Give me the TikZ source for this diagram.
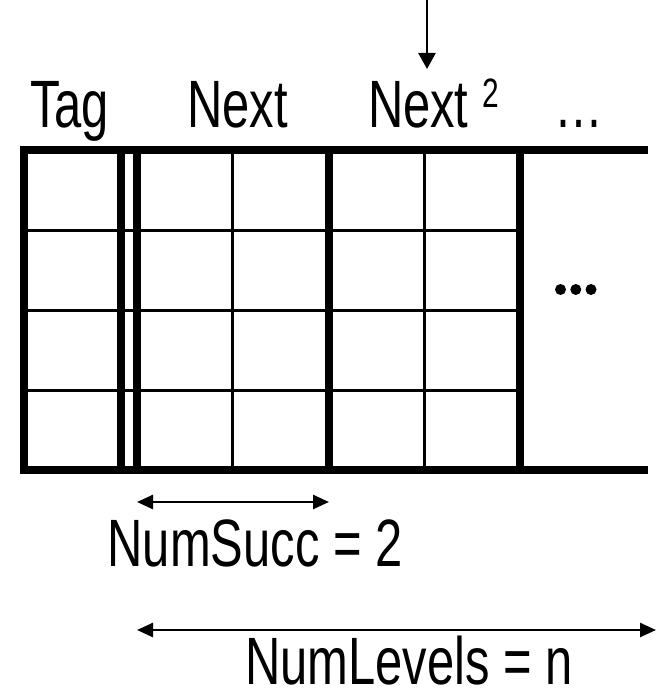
\documentclass[tikz,border=0pt]{standalone}
\usepackage{fontspec}
\setmainfont[FakeStretch=0.73]{Liberation Sans}
\usetikzlibrary{arrows.meta}
\begin{document}
\begin{tikzpicture}[x=1pt,y=-1pt,
  lbl/.style={inner sep=0pt, outer sep=0pt, font=\fontsize{67}{72}\selectfont, anchor=base},
  heavy/.style={line width=8pt, line join=miter},
  hair/.style={line width=3pt},
  ptr/.style={line width=2.5pt, -{Triangle[length=16pt,width=17pt]}},
  dimarrow/.style={line width=2.5pt, {Triangle[length=16pt,width=14pt]}-{Triangle[length=16pt,width=14pt]}},
  dot/.style={circle, fill=black, inner sep=0pt, minimum size=11pt}
]
\useasboundingbox (0,0) rectangle (656,690);

% grid: thin lines
\foreach \y in {230,310,390} \draw[hair] (24,\y) -- (520,\y);
\foreach \x in {232,424.5} \draw[hair] (\x,150) -- (\x,470);
% thick separators
\foreach \x in {121.3,136.7,329,520} \draw[heavy] (\x,150) -- (\x,470);
% outer frame (open on the right)
\draw[heavy] (648,150) -- (24,150) -- (24,470) -- (648,470);

% dots
\node[dot] (d1) at (560.5,289.5) {};
\node[dot] (d2) at (575.8,289.5) {};
\node[dot] (d3) at (591,289.5) {};

% labels
\node[lbl] (tag) at (69.5,128) {Tag};
\node[lbl] (next) at (237.5,128) {Next};
\node[lbl, anchor=base west] (next2) at (368,128) {Next \raisebox{20pt}{\fontsize{41}{44}\selectfont 2}};
\node[lbl] (dots) at (578.5,128) {…};
\node[lbl] (numsucc) at (255,566) {NumSucc = 2};
\node[lbl, text depth=0pt] (numlevels) at (409,684) {NumLevels = n};

% arrows
\coordinate (ptrtop) at (427,0);
\coordinate (ptrtip) at (427,69);
\draw[ptr] (ptrtop) -- (ptrtip);

\coordinate (sa) at (137,502);
\coordinate (sb) at (329,502);
\draw[dimarrow] (sa) -- (sb);

\coordinate (la) at (137,630);
\coordinate (lb) at (656,630);
\draw[dimarrow] (la) -- (lb);
\end{tikzpicture}
\end{document}
